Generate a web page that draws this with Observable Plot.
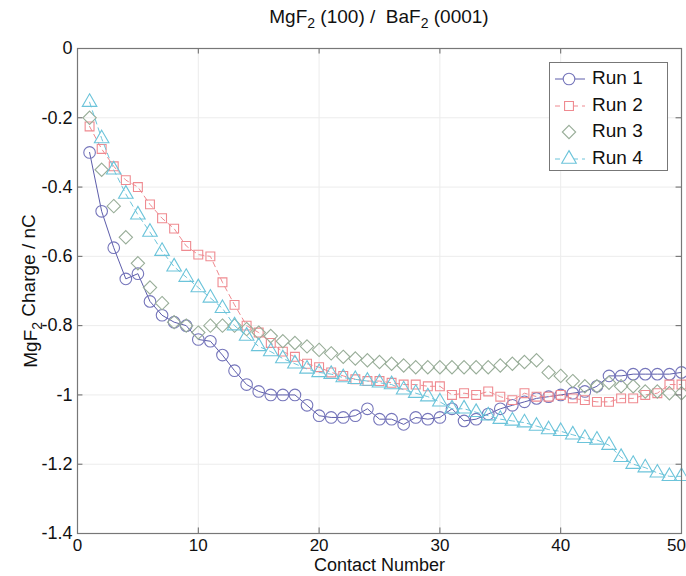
<!DOCTYPE html>
<html><head><meta charset="utf-8">
<script src="https://cdn.jsdelivr.net/npm/d3@7"></script>
<script src="https://cdn.jsdelivr.net/npm/@observablehq/plot@0.6"></script>
<style>
body{margin:0;background:#fff;font-family:"Liberation Sans",Arial,sans-serif;}
#wrap{position:relative;width:686px;height:576px;overflow:hidden;}
#title{height:36px;box-sizing:border-box;padding-left:77px;width:681px;text-align:center;font-size:19px;line-height:22px;padding-top:6px;color:#111;}
#title sub{font-size:14px;vertical-align:-5px;line-height:0;}
#legend{position:absolute;left:549px;top:62px;width:119px;height:109px;border:1px solid #777;background:#fff;box-sizing:border-box;}
</style></head>
<body><div id="wrap"><div id="title">MgF<sub>2</sub> (100) /&nbsp; BaF<sub>2</sub> (0001)</div><div id="chart"></div><div id="legend"></div></div>
<script>
const contact = [1,2,3,4,5,6,7,8,9,10,11,12,13,14,15,16,17,18,19,20,21,22,23,24,25,26,27,28,29,30,31,32,33,34,35,36,37,38,39,40,41,42,43,44,45,46,47,48,49,50];
const run1 = [-0.30,-0.47,-0.575,-0.665,-0.65,-0.73,-0.77,-0.79,-0.80,-0.84,-0.845,-0.885,-0.93,-0.97,-0.99,-1.0,-1.0,-1.0,-1.03,-1.06,-1.065,-1.065,-1.06,-1.04,-1.07,-1.07,-1.085,-1.065,-1.07,-1.065,-1.04,-1.075,-1.07,-1.055,-1.04,-1.03,-1.02,-1.01,-1.005,-1.0,-0.995,-0.99,-0.975,-0.945,-0.945,-0.94,-0.94,-0.94,-0.94,-0.935];
const run2 = [-0.225,-0.29,-0.34,-0.38,-0.40,-0.45,-0.49,-0.52,-0.57,-0.595,-0.60,-0.675,-0.74,-0.80,-0.82,-0.85,-0.875,-0.89,-0.91,-0.92,-0.935,-0.945,-0.955,-0.96,-0.96,-0.965,-0.97,-0.97,-0.975,-0.975,-1.0,-0.995,-1.0,-0.99,-1.005,-1.015,-0.995,-1.005,-1.005,-1.0,-1.01,-1.015,-1.02,-1.02,-1.01,-1.01,-1.0,-0.995,-0.97,-0.97];
const run3 = [-0.20,-0.35,-0.455,-0.545,-0.62,-0.69,-0.735,-0.79,-0.80,-0.82,-0.80,-0.80,-0.80,-0.81,-0.82,-0.83,-0.845,-0.85,-0.86,-0.87,-0.88,-0.89,-0.895,-0.90,-0.905,-0.91,-0.915,-0.92,-0.92,-0.92,-0.92,-0.92,-0.92,-0.92,-0.915,-0.91,-0.905,-0.90,-0.935,-0.945,-0.96,-0.975,-0.975,-0.965,-0.975,-0.975,-0.99,-0.99,-0.995,-0.995];
const run4 = [-0.155,-0.26,-0.35,-0.42,-0.48,-0.53,-0.585,-0.63,-0.66,-0.69,-0.72,-0.75,-0.80,-0.83,-0.86,-0.875,-0.895,-0.91,-0.925,-0.935,-0.94,-0.95,-0.955,-0.96,-0.965,-0.97,-0.985,-0.995,-1.005,-1.02,-1.04,-1.04,-1.05,-1.06,-1.07,-1.075,-1.08,-1.09,-1.10,-1.105,-1.115,-1.125,-1.13,-1.145,-1.18,-1.20,-1.21,-1.225,-1.235,-1.235];
const seriesNames = ["Run 1","Run 2","Run 3","Run 4"];
const xTicks = [0,10,20,30,40,50];
const yTicks = [0,-0.2,-0.4,-0.6,-0.8,-1,-1.2,-1.4];

const styles = {
  "Run 1": {color:"#7676bb", line:"#5c5caa", symbol:"circle", r:5.8, dash:null},
  "Run 2": {color:"#ef8a90", line:"#ef8a90", symbol:"square", r:5, dash:"5,4"},
  "Run 3": {color:"#98ad98", line:null, symbol:"diamond2", r:6, dash:null},
  "Run 4": {color:"#6cc4da", line:"#6cc4da", symbol:"triangle", r:5.4, dash:"5,4"}
};
const allRuns = [run1, run2, run3, run4];
const data = [];
seriesNames.forEach((s, i) => contact.forEach((c, j) => data.push({series: s, x: c, y: allRuns[i][j]})));

const marks = [
  Plot.ruleX(xTicks, {stroke:"#ececec", strokeWidth:1}),
  Plot.ruleY(yTicks, {stroke:"#ececec", strokeWidth:1}),
];
seriesNames.forEach(s => {
  const st = styles[s];
  const d = data.filter(v => v.series === s);
  if (st.line) marks.push(Plot.line(d, {x:"x", y:"y", stroke: st.line, strokeWidth:1, strokeDasharray: st.dash}));
  marks.push(Plot.dot(d, {x:"x", y:"y", symbol: st.symbol, r: st.r, stroke: st.color, fill:"none", strokeWidth:1.1}));
});
marks.push(
  Plot.ruleY(yTicks, {x1:0, x2:0.45, stroke:"#666"}),
  Plot.ruleY(yTicks, {x1:49.55, x2:50, stroke:"#666"}),
  Plot.ruleX(xTicks, {y1:-1.4, y2:-1.384, stroke:"#666"}),
  Plot.ruleX(xTicks, {y1:-0.016, y2:0, stroke:"#666"}),
  Plot.frame({stroke:"#777", strokeWidth:1.2}),
  Plot.axisX(xTicks, {tickSize:0, tickPadding:5, fontSize:17, label:"Contact Number", labelAnchor:"center", labelOffset:37, tickFormat: d => String(d)}),
  Plot.axisY(yTicks, {tickSize:0, tickPadding:5, fontSize:18, label:"MgF2 Charge / nC", labelAnchor:"center", labelOffset:54, tickFormat: d => String(d)})
);

const chart = Plot.plot({
  width: 686, height: 540,
  marginTop: 12, marginBottom: 43, marginLeft: 77, marginRight: 5,
  style: {fontFamily: '"Liberation Sans", Arial, sans-serif', fontSize: "18px", color:"#111", background:"#fff", overflow:"visible"},
  x: {domain:[0,50]},
  y: {domain:[-1.4,0]},
  marks
});
document.getElementById("chart").appendChild(chart);

// clean labels: remove arrows, add subscript
d3.select(chart).selectAll("text").each(function(){
  const t = d3.select(this);
  const raw = this.textContent;
  const clean = raw.replace(/[\u2190-\u2193]/g, "").trim();
  if (clean !== raw) t.text(clean);
  if (clean === "MgF2 Charge / nC") {
    t.attr("font-size", "19px");
    t.text(null);
    t.append("tspan").text("MgF");
    t.append("tspan").attr("dy","0.35em").attr("font-size","14px").text("2");
    t.append("tspan").attr("dy","-0.35em").text(" Charge / nC");
  }
  if (clean === "Contact Number") t.attr("font-size", "18px");
  if (clean === "50") t.attr("dx", "-5");
});

// legend
const leg = d3.select("#legend");
seriesNames.forEach((s, i) => {
  const st = styles[s];
  const row = leg.append("div").style("position","absolute").style("left","0px").style("top", (2 + i*26.5) + "px").style("height","26px").style("width","118px");
  const svg = row.append("svg").attr("width",40).attr("height",26).style("position","absolute").style("left","0px").style("top","0px");
  if (st.line) svg.append("line").attr("x1",5).attr("x2",35).attr("y1",14).attr("y2",14).attr("stroke",st.line).attr("stroke-dasharray", st.dash ? "5,4" : null);
  svg.append("path").attr("transform","translate(19,14)").attr("d", d3.symbol(
    {circle:d3.symbolCircle, square:d3.symbolSquare, diamond2:d3.symbolDiamond2, triangle:d3.symbolTriangle}[st.symbol], Math.PI*st.r*st.r)())
    .attr("fill","#fff").attr("stroke",st.color).attr("stroke-width",1.1);
  row.append("div").style("position","absolute").style("left","42px").style("top","2px").style("font-size","19px").style("color","#111").text(s);
});
</script></body></html>
